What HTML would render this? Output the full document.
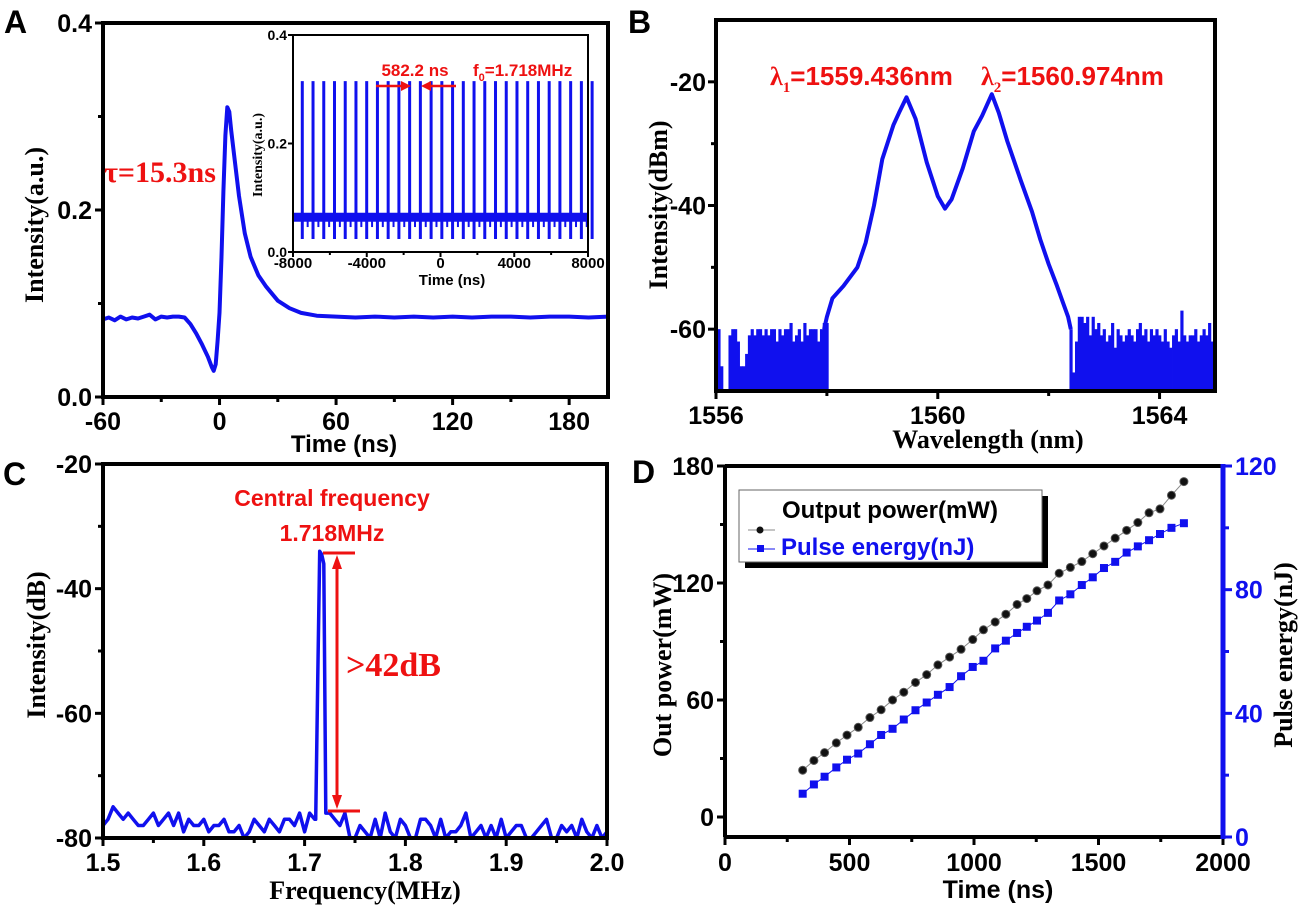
<!DOCTYPE html>
<html><head><meta charset="utf-8"><style>
html,body{margin:0;padding:0;background:#fff;}
svg{display:block;}
.t{font-family:"Liberation Sans",sans-serif;font-weight:bold;}
.s{font-family:"Liberation Serif",serif;font-weight:bold;}
</style></head><body>
<svg id="fig" width="1298" height="908" viewBox="0 0 1298 908" xmlns="http://www.w3.org/2000/svg">
<text class="t" x="4" y="33" font-size="32">A</text>
<text class="t" x="628" y="33" font-size="32">B</text>
<text class="t" x="3" y="485" font-size="32">C</text>
<text class="t" x="632" y="483" font-size="32">D</text>
</svg>
<script>
// ---------- Panel A data ----------
const aTime=[-60,-57,-54,-51,-48,-45,-42,-39,-36,-33,-30,-27,-24,-21,-18,-15,-12,-9,-6,-4,-3,-2,-1,0,1,2,3,4,5,6,8,10,13,16,20,24,30,36,42,50,60,70,80,90,100,110,120,130,140,150,160,170,180,190,200];
const aVal=[0.083,0.085,0.082,0.086,0.083,0.085,0.084,0.086,0.088,0.083,0.086,0.085,0.086,0.086,0.085,0.078,0.068,0.056,0.043,0.032,0.028,0.035,0.06,0.09,0.15,0.22,0.28,0.31,0.305,0.285,0.25,0.215,0.175,0.15,0.13,0.118,0.103,0.095,0.09,0.087,0.086,0.085,0.086,0.085,0.086,0.085,0.086,0.085,0.086,0.086,0.085,0.086,0.086,0.085,0.086];
const aXTicks=[-60,0,60,120,180];
const aYTicks=[0.0,0.2,0.4];
// inset
const insetPeriod=582.2, insetFirst=-7496, insetCount=28;
const insetTop=0.315, insetBase=0.065, insetDip=0.024, insetHalfDip=0.046;
const insetXTicks=[-8000,-4000,0,4000,8000];
const insetYTicks=[0.0,0.2,0.4];
// ---------- Panel B data ----------
const bWl=[1557.95,1558.0,1558.1,1558.3,1558.55,1558.7,1558.85,1559.0,1559.2,1559.3,1559.436,1559.6,1559.8,1560.0,1560.13,1560.25,1560.45,1560.65,1560.8,1560.974,1561.1,1561.25,1561.5,1561.7,1561.85,1562.0,1562.15,1562.25,1562.35,1562.4];
const bDb=[-60,-58,-55,-53,-50,-46,-40,-32.5,-27,-25,-22.5,-26,-33,-38.5,-40.5,-39,-34,-28,-25.5,-22,-25,-29.5,-36,-41,-45.5,-49.5,-53,-55.5,-58,-60];
const bNoiseLeftStart=1556.0, bNoiseRightStart=1562.4, bNoiseStep=0.05;
const bNoiseLeft=[-60,-60,-66,-70,-70,-61,-60,-60,-62,-66,-66,-64,-61,-60,-61,-60,-60,-61,-60,-61,-60,-60,-62,-60,-61,-60,-60,-59,-62,-61,-60,-62,-59,-61,-60,-60,-60,-62,-60,-59,-59];
const bNoiseRight=[-60,-67,-62,-58,-58,-59,-58,-61,-58,-60,-59,-61,-60,-62,-61,-59,-63,-60,-61,-62,-61,-60,-61,-62,-60,-59,-61,-60,-62,-60,-61,-60,-61,-62,-60,-62,-63,-61,-60,-62,-57,-61,-62,-61,-61,-60,-62,-61,-60,-61,-59,-62,-60];
const bXTicks=[1556,1560,1564];
const bYTicks=[-20,-40,-60];
// ---------- Panel C data ----------
const cStart=1.5, cStep=0.005;
const cLeft=[-78,-77,-75,-76,-77,-76,-77,-78,-78,-77,-76,-78,-77,-76,-78,-76,-79,-77,-78,-78,-77,-79,-78,-78,-77,-79,-79,-78,-80,-79,-77,-78,-79,-77,-78,-79,-77,-77,-78,-76,-79,-76,-77];
const cPeakF=[1.711,1.713,1.715,1.717,1.719,1.721,1.723];
const cPeakV=[-77,-55,-34,-34.5,-36,-76,-76];
const cRightStart=1.725;
const cRight=[-76,-77,-78,-76,-80,-80,-78,-79,-80,-77,-80,-76,-79,-80,-77,-78,-80,-80,-77,-77,-78,-80,-77,-80,-79,-79,-78,-76,-80,-79,-78,-80,-78,-80,-77,-80,-79,-78,-78,-80,-80,-79,-78,-77,-80,-80,-78,-79,-78,-80,-77,-79,-80,-78,-80,-79];
const cXTicks=[1.5,1.6,1.7,1.8,1.9,2.0];
const cYTicks=[-20,-40,-60,-80];
// ---------- Panel D data ----------
const dTime=[312,357,400,447,490,535,582,627,673,718,765,810,855,902,948,995,1038,1085,1128,1173,1212,1253,1297,1342,1387,1433,1477,1522,1567,1613,1658,1703,1747,1793,1843];
const dPower=[24,29,33,38,42,46,51,55,60,64,69,73,78,82,86,91,96,100,104,109,112,116,119,125,128,131,135,139,143,147,151,156,158,165,172];
const dEnergy=[14,17,19.5,22.5,25,27,30,33,35,38,41,43.5,46,48.5,52,55,57,61,63.5,66,68,70,72.5,76.5,78.5,81.5,84,87,89,92,94,96,98,100,101.5];
const dXTicks=[0,500,1000,1500,2000];
const dYTicks=[0,60,120,180];
const dY2Ticks=[0,40,80,120];

const NS="http://www.w3.org/2000/svg";
const svg=document.getElementById('fig');
function el(tag,attrs,parent){const e=document.createElementNS(NS,tag);for(const k in attrs)e.setAttribute(k,attrs[k]);(parent||svg).appendChild(e);return e;}
function lin(d0,d1,r0,r1){return v=>r0+(v-d0)/(d1-d0)*(r1-r0);}
function txt(s,x,y,cls,size,anchor,fill,name){const t=el('text',{x:x,y:y,class:cls,'font-size':size,'text-anchor':anchor||'start',fill:fill||'#000'});t.textContent=s;


return t;}
function frame(l,t,r,b,name,sw){const f=el('rect',{x:l,y:t,width:r-l,height:b-t,fill:'none',stroke:'#000','stroke-width':sw||4});


return f;}
function tick(x1,y1,x2,y2,col,w){const l=el('line',{x1:x1,y1:y1,x2:x2,y2:y2,stroke:col||'#000','stroke-width':w||3});

}
function poly(pts,col,w,name){const p=el('polyline',{points:pts.map(p=>p[0].toFixed(1)+','+p[1].toFixed(1)).join(' '),fill:'none',stroke:col,'stroke-width':w,'stroke-linejoin':'round'});


return p;}

// ===== Panel A =====
(function(){
 const L=103,R=608,T=23,B=397;
 const x=lin(-60,200,L,R), y=lin(0,0.4,B,T);
 poly(aTime.map((t,i)=>[x(t),y(aVal[i])]),'#1010ee',4,'pulse-trace');
 aXTicks.forEach(v=>{tick(x(v),B,x(v),B+8);txt(String(v),x(v),430,'t',25,'middle','#000','x-tick-label');});
 [-30,30,90,150].forEach(v=>tick(x(v),B,x(v),B+5));
 aYTicks.forEach(v=>{tick(L-8,y(v),L,y(v));txt(v.toFixed(1),L-11,y(v)+9,'t',25,'end','#000','y-tick-label');});
 [0.1,0.3].forEach(v=>tick(L-5,y(v),L,y(v)));
 frame(L,T,R,B,'panel-a-frame');
 txt('Time (ns)',344,452,'t',24,'middle','#000','x-axis-title');
 const yt=txt('Intensity(a.u.)',0,0,'s',26,'middle','#000','y-axis-title');yt.setAttribute('transform','translate(43,225) rotate(-90)');
 txt('τ=15.3ns',160,182,'s',30,'middle','#ee1111','decay-time-label');
 // inset
 const iL=293,iR=588,iT=35,iB=252;
 const ix=lin(-8000,8000,iL,iR), iy=lin(0,0.4,iB,iT);
 const g=el('g',{});
 
 
 el('rect',{x:iL,y:iy(insetBase)-4,width:iR-iL,height:9,fill:'#1010ee'},g);
 for(let k=0;k<insetCount;k++){const t=insetFirst+k*insetPeriod;
  const ln=el('line',{x1:ix(t),y1:iy(insetDip),x2:ix(t),y2:iy(insetTop),stroke:'#1010ee','stroke-width':3},g);
  
  
  const t2=t+insetPeriod/2; if(t2<8000){const d=el('line',{x1:ix(t2),y1:iy(insetHalfDip),x2:ix(t2),y2:iy(insetBase),stroke:'#1010ee','stroke-width':2},g);
  
  }
 }
 insetXTicks.forEach(v=>{tick(ix(v),iB,ix(v),iB+5,'#000',2);txt(String(v),ix(v),268,'t',15,'middle','#000','inset-x-tick-label');});
 [-6000,-2000,2000,6000].forEach(v=>tick(ix(v),iB,ix(v),iB+3,'#000',2));
 insetYTicks.forEach(v=>{tick(iL-5,iy(v),iL,iy(v),'#000',2);txt(v.toFixed(1),iL-6,iy(v)+5,'t',14,'end','#000','inset-y-tick-label');});
 frame(iL,iT,iR,iB,'inset-frame',2);
 txt('Time (ns)',452,285,'t',15,'middle','#000','inset-x-axis-title');
 const it=txt('Intensity(a.u.)',0,0,'s',14,'middle','#000','inset-y-axis-title');it.setAttribute('transform','translate(262,155) rotate(-90)');
 txt('582.2 ns',415,76,'t',17,'middle','#ee1111','period-label');
 const f=txt('f',473,76,'t',17,'start','#ee1111','frequency-label');
 const sub=el('tspan',{'font-size':11,dy:5},f);sub.textContent='0';
 const rest=el('tspan',{dy:-5},f);rest.textContent='=1.718MHz';
 el('line',{x1:376,y1:86,x2:403,y2:86,stroke:'#ee1111','stroke-width':2.5});
 el('polygon',{points:'411,86 401,81 401,91',fill:'#ee1111'});
 el('line',{x1:456,y1:86,x2:429,y2:86,stroke:'#ee1111','stroke-width':2.5});
 el('polygon',{points:'421,86 431,81 431,91',fill:'#ee1111'});
})();

// ===== Panel B =====
(function(){
 const L=716,R=1215,T=20,B=391;
 const x=lin(1556,1565,L,R), y=lin(-70,-10,B,T);
 const g=el('g',{});
 
 
 const w=x(1556+bNoiseStep)-x(1556);
 bNoiseLeft.forEach((v,i)=>{const wl=bNoiseLeftStart+i*bNoiseStep;const r=el('rect',{x:x(wl)-w/2,y:y(v),width:w+0.4,height:B-y(v),fill:'#1010ee'},g);
 
 });
 bNoiseRight.forEach((v,i)=>{const wl=bNoiseRightStart+i*bNoiseStep;const r=el('rect',{x:x(wl)-w/2,y:y(v),width:w+0.4,height:B-y(v),fill:'#1010ee'},g);
 
 });
 poly(bWl.map((t,i)=>[x(t),y(bDb[i])]),'#1010ee',4,'spectrum-trace');
 bXTicks.forEach(v=>{tick(x(v),B,x(v),B+8);txt(String(v),x(v),424,'t',25,'middle','#000','x-tick-label');});
 [1558,1562].forEach(v=>tick(x(v),B,x(v),B+5));
 bYTicks.forEach(v=>{tick(L-8,y(v),L,y(v));txt(String(v),L-10,y(v)+9,'t',25,'end','#000','y-tick-label');});
 [-30,-50].forEach(v=>tick(L-5,y(v),L,y(v)));
 frame(L,T,R,B,'panel-b-frame');
 txt('Wavelength (nm)',988,448,'s',26,'middle','#000','x-axis-title');
 const yt=txt('Intensity(dBm)',0,0,'s',26,'middle','#000','y-axis-title');yt.setAttribute('transform','translate(667,205) rotate(-90)');
 const l1=txt('λ',770,85,'s',26,'start','#ee1111','lambda1-label');
 let s=el('tspan',{'font-size':15,dy:7},l1);s.textContent='1';s=el('tspan',{dy:-7,class:'t'},l1);s.textContent='=1559.436nm';
 const l2=txt('λ',981,85,'s',26,'start','#ee1111','lambda2-label');
 s=el('tspan',{'font-size':15,dy:7},l2);s.textContent='2';s=el('tspan',{dy:-7,class:'t'},l2);s.textContent='=1560.974nm';
})();

// ===== Panel C =====
(function(){
 const L=103,R=607,T=464,B=838;
 const x=lin(1.5,2.0,L,R), y=lin(-80,-20,B,T);
 const pts=[];
 cLeft.forEach((v,i)=>pts.push([x(cStart+i*cStep),y(v)]));
 cPeakF.forEach((f,i)=>pts.push([x(f),y(cPeakV[i])]));
 cRight.forEach((v,i)=>pts.push([x(cRightStart+i*cStep),y(v)]));
 poly(pts,'#1010ee',3.5,'rf-spectrum-trace');
 cXTicks.forEach(v=>{tick(x(v),B,x(v),B+8);txt(v.toFixed(1),x(v),871,'t',25,'middle','#000','x-tick-label');});
 [1.55,1.65,1.75,1.85,1.95].forEach(v=>tick(x(v),B,x(v),B+5));
 cYTicks.forEach(v=>{tick(L-8,y(v),L,y(v));txt(String(v),L-11,y(v)+9,'t',25,'end','#000','y-tick-label');});
 [-30,-50,-70].forEach(v=>tick(L-5,y(v),L,y(v)));
 frame(L,T,R,B,'panel-c-frame');
 txt('Frequency(MHz)',365,899,'s',26,'middle','#000','x-axis-title');
 const yt=txt('Intensity(dB)',0,0,'s',26,'middle','#000','y-axis-title');yt.setAttribute('transform','translate(45,645) rotate(-90)');
 txt('Central frequency',332,506,'t',23,'middle','#ee1111','central-frequency-label');
 txt('1.718MHz',332,541,'t',23,'middle','#ee1111','central-frequency-value');
 el('line',{x1:323,y1:553,x2:355,y2:553,stroke:'#ee1111','stroke-width':3});
 el('line',{x1:328,y1:811,x2:360,y2:811,stroke:'#ee1111','stroke-width':3});
 el('line',{x1:337,y1:562,x2:337,y2:802,stroke:'#ee1111','stroke-width':3});
 el('polygon',{points:'337,555 332,569 342,569',fill:'#ee1111'});
 el('polygon',{points:'337,809 332,795 342,795',fill:'#ee1111'});
 txt('>42dB',346,676,'s',34,'start','#ee1111','snr-label');
})();

// ===== Panel D =====
(function(){
 const L=725,R=1223,T=466,B=837;
 const x=lin(0,2000,L,R), y=lin(0,180,817,T), y2=lin(0,120,B,T);
 poly(dTime.map((t,i)=>[x(t),y(dPower[i])]),'#888',1,'output-power-line');
 poly(dTime.map((t,i)=>[x(t),y2(dEnergy[i])]),'#1010ee',1,'pulse-energy-line');
 dTime.forEach((t,i)=>{const c=el('circle',{cx:x(t),cy:y(dPower[i]),r:4,fill:'#111',stroke:'#555','stroke-width':1});
 
 
 const r=el('rect',{x:x(t)-4,y:y2(dEnergy[i])-4,width:8,height:8,fill:'#1010ee'});
 
 });
 dXTicks.forEach(v=>{tick(x(v),B,x(v),B+8);txt(String(v),x(v),871,'t',25,'middle','#000','x-tick-label');});
 [250,750,1250,1750].forEach(v=>tick(x(v),B,x(v),B+5));
 dYTicks.forEach(v=>{tick(L-8,y(v),L,y(v));txt(String(v),L-11,y(v)+9,'t',25,'end','#000','y-tick-label');});
 [30,90,150].forEach(v=>tick(L-5,y(v),L,y(v)));
 el('line',{x1:L,y1:T,x2:R,y2:T,stroke:'#000','stroke-width':4});
 el('line',{x1:L,y1:T,x2:L,y2:B,stroke:'#000','stroke-width':4});
 el('line',{x1:L,y1:B,x2:R,y2:B,stroke:'#000','stroke-width':4});
 const ra=el('line',{x1:R,y1:T-2,x2:R,y2:B+2,stroke:'#1010ee','stroke-width':5});
 
 
 dY2Ticks.forEach(v=>{tick(R,y2(v),R+9,y2(v),'#1010ee',3);txt(String(v),R+12,y2(v)+9,'t',25,'start','#1010ee','y2-tick-label');});
 [20,60,100].forEach(v=>tick(R,y2(v),R+6,y2(v),'#1010ee',3));
 txt('Time (ns)',998,898,'t',25,'middle','#000','x-axis-title');
 const yt=txt('Out power(mW)',0,0,'s',26,'middle','#000','y-axis-title');yt.setAttribute('transform','translate(671,665) rotate(-90)');
 const yt2=txt('Pulse energy(nJ)',0,0,'s',26,'middle','#000','y2-axis-title');yt2.setAttribute('transform','translate(1292,655) rotate(-90)');
 // legend
 const lg=el('g',{});
 
 
 el('rect',{x:745,y:496,width:303,height:72,fill:'#000'},lg);
 el('rect',{x:739,y:490,width:303,height:72,fill:'#fff',stroke:'#666','stroke-width':1},lg);
 el('line',{x1:748,y1:530,x2:775,y2:530,stroke:'#888','stroke-width':1},lg);
 el('circle',{cx:760,cy:530,r:3.5,fill:'#111'},lg);
 el('line',{x1:748,y1:549,x2:775,y2:549,stroke:'#1010ee','stroke-width':1},lg);
 el('rect',{x:757,y:545,width:7,height:7,fill:'#1010ee'},lg);
 txt('Output power(mW)',782,518,'t',24,'start','#000','legend-entry-output-power');
 txt('Pulse energy(nJ)',781,555,'t',24,'start','#1010ee','legend-entry-pulse-energy');
})();
</script>
</body></html>
